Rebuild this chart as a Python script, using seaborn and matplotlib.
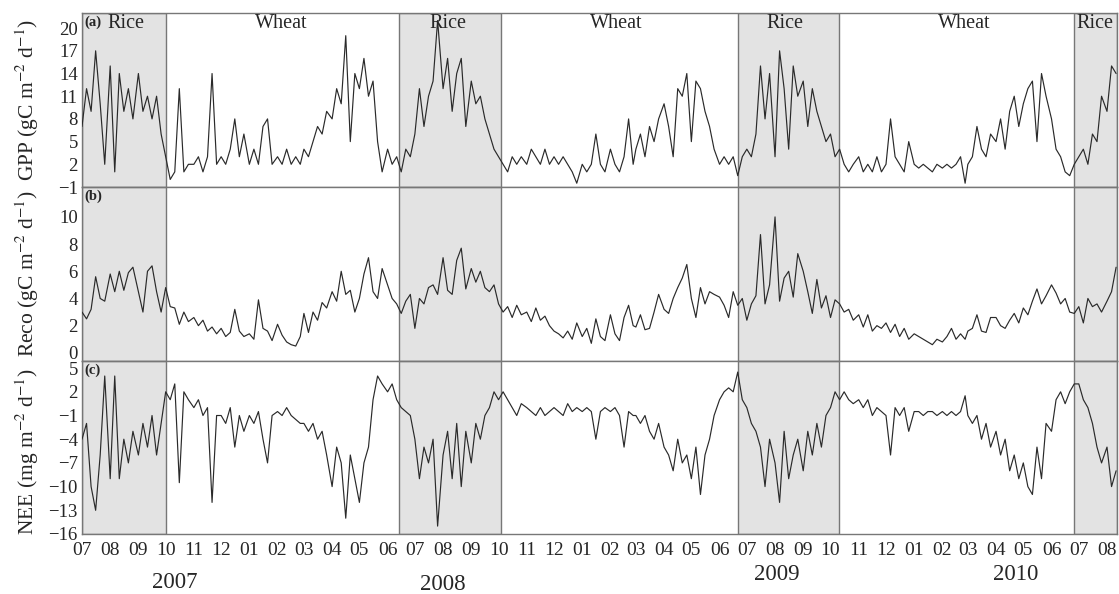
import matplotlib
matplotlib.use("Agg")
import matplotlib.pyplot as plt
import numpy as np
import pandas as pd
import seaborn as sns

sns.set_theme(style="white")
plt.rcParams['font.family'] = ['Liberation Serif', 'DejaVu Serif']
plt.rcParams['mathtext.fontset'] = 'stix'
plt.rcParams['axes.unicode_minus'] = True

# ---- data: values sampled on days 1,6,11,16,21,26 of each month ----
sample_days = [1, 6, 11, 16, 21, 26]

# GPP (gC m-2 d-1), Jul 2007 - Aug 2010
gpp_2007 = [7, 12, 9, 17, 10, 2,   15, 1, 14, 9, 12, 8,   14, 9, 11, 8, 11, 6,
            3, 0, 1, 12, 1, 2,     2, 3, 1, 3, 14, 2,     3, 2, 4, 8, 3, 6]
gpp_2008 = [2, 4, 2, 7, 8, 2,      3, 2, 4, 2, 3, 2,      4, 3, 5, 7, 6, 9,
            8, 12, 10, 19, 5, 14,  12, 16, 11, 13, 5, 1,  4, 2, 3, 1, 4, 3,
            6, 12, 7, 11, 13, 21,  12, 16, 9, 14, 16, 7,  13, 10, 11, 8, 6, 4,
            3, 2, 1, 3, 2, 3,      2, 4, 3, 2, 4, 2,      3, 2, 3, 2, 1, -0.5]
gpp_2009 = [2, 1, 2, 6, 2, 1,      4, 2, 1, 3, 8, 2,      4, 6, 3, 7, 5, 8,
            10, 7, 3, 12, 11, 14,  5, 13, 12, 9, 7, 4,    2, 3, 2, 3, 0.5, 3,
            4, 3, 6, 15, 8, 14,    3, 17, 12, 4, 15, 11,  13, 7, 12, 9, 7, 5,
            6, 3, 4, 2, 1, 2,      3, 1, 2, 1, 3, 1,      2, 8, 3, 2, 1, 5]
gpp_2010 = [2, 1.5, 2, 1.5, 1, 2,  1.5, 2, 1.5, 2, 3, -0.5,  2, 3, 7, 4, 3, 6,
            5, 8, 4, 9, 11, 7,     10, 12, 13, 5, 14, 11,    8, 4, 3, 1, 0.5, 2,
            3, 4, 2, 6, 5, 11,     9, 15, 14]

# Reco (gC m-2 d-1)
reco_2007 = [3.0, 2.5, 3.2, 5.6, 4.0, 3.8,  5.8, 4.5, 6.0, 4.6, 5.9, 6.3,
             4.5, 3.0, 6.0, 6.4, 4.5, 3.0,  4.8, 3.4, 3.3, 2.1, 3.0, 2.3,
             2.6, 2.0, 2.4, 1.6, 1.9, 1.4,  1.8, 1.2, 1.5, 3.2, 1.6, 1.2]
reco_2008 = [1.4, 1.0, 3.9, 1.8, 1.6, 0.9,  2.1, 1.3, 0.8, 0.6, 0.5, 1.2,
             2.9, 1.5, 3.0, 2.4, 3.7, 3.3,  4.5, 3.8, 6.0, 4.3, 4.6, 3.0,
             4.0, 5.8, 7.0, 4.5, 4.0, 6.2,  5.0, 4.0, 3.6, 2.9, 3.8, 4.3,
             1.8, 4.0, 3.6, 4.8, 5.0, 4.3,  7.0, 4.6, 4.3, 6.8, 7.7, 4.7,
             6.2, 5.2, 6.0, 4.8, 4.5, 5.0,  3.6, 3.0, 3.4, 2.6, 3.5, 2.8,
             3.0, 2.3, 3.3, 2.4, 2.7, 2.0,  1.6, 1.4, 1.1, 1.6, 1.0, 2.2]
reco_2009 = [1.2, 1.8, 0.7, 2.5, 1.2, 0.9,  2.8, 1.4, 0.9, 2.6, 3.5, 2.0,
             1.9, 2.8, 1.7, 1.8, 3.0, 4.3,  3.2, 2.9, 4.0, 4.8, 5.5, 6.5,
             4.0, 2.6, 4.8, 3.6, 4.5, 4.3,  4.1, 3.5, 2.6, 4.5, 3.5, 4.0,
             2.4, 3.6, 4.2, 8.7, 3.6, 5.0,  10.0, 3.8, 5.5, 6.0, 4.1, 7.3,
             6.0, 4.5, 2.9, 5.4, 3.3, 4.2,  2.6, 3.9, 3.6, 3.0, 3.2, 2.4,
             2.8, 1.9, 2.8, 1.6, 2.0, 1.8,  2.2, 1.5, 2.1, 1.2, 1.8, 1.0]
reco_2010 = [1.4, 1.2, 1.0, 0.8, 0.6, 1.0,  0.8, 1.2, 1.8, 1.0, 1.4, 1.0,
             1.6, 1.8, 2.8, 1.6, 1.5, 2.6,  2.6, 2.0, 1.8, 2.4, 2.9, 2.2,
             3.3, 2.8, 3.8, 4.7, 3.6, 4.2,  5.0, 4.4, 3.6, 4.0, 3.0, 2.9,
             3.4, 2.2, 4.0, 3.4, 3.6, 3.0,  3.8, 4.5, 6.3]

# NEE (mg m-2 d-1)
nee_2007 = [-4, -2, -10, -13, -6, 4,   -9, 4, -9, -4, -7, -3,   -6, -2, -5, -1, -6, -2,
            2, 1, 3, -9.5, 2, 1,       0, 1, -1, 0, -12, -1,    -1, -2, 0, -5, -1, -3]
nee_2008 = [-1, -2, -0.5, -4, -7, -1,  -0.5, -1, 0, -1, -1.5, -2,  -2, -3, -2, -4, -3, -6,
            -10, -5, -7, -14, -6, -9,  -12, -7, -5, 1, 4, 3,        2, 3, 1, 0, -0.5, -1,
            -4, -9, -5, -7, -4, -15,   -6, -3, -9, -2, -10, -3,     -7, -2, -4, -1, 0, 2,
            1, 2, 1, 0, -1, 0.5,       0, -0.5, -1, 0, -1, -0.5,    0, -0.5, -1, 0.5, -0.5, 0]
nee_2009 = [-0.5, 0, -0.5, -4, -0.5, 0,  -0.5, 0, -1, -5, -0.5, -1,  -1, -2, -1, -3, -4, -2,
            -5, -6, -8, -4, -7, -6,      -9, -5, -11, -6, -4, -1,    1, 2, 2.5, 2, 4.5, 1,
            0, -2, -3, -5, -10, -4,      -7, -12, -3, -9, -6, -4,    -8, -3, -6, -2, -5, -1,
            0, 2, 1, 2, 1, 0.5,          1, 0, 1, -1, 0, -0.5,       -1, -6, 0, -1, 0, -3]
nee_2010 = [-0.5, -0.5, -1, -0.5, -0.5, -1,  -0.5, -1, -0.5, -1, -0.5, 1.5,
            -1, -2, -1, -4, -2, -5,          -3, -6, -4, -8, -6, -9,
            -7, -10, -11, -5, -9, -2,        -3, 1, 2, 0.5, 2, 3,
            3, 1, 0, -2, -5, -7,             -5, -10, -8]

month_labels = ['07', '08', '09', '10', '11', '12',
                '01', '02', '03', '04', '05', '06', '07', '08', '09', '10', '11', '12',
                '01', '02', '03', '04', '05', '06', '07', '08', '09', '10', '11', '12',
                '01', '02', '03', '04', '05', '06', '07', '08']
years = ['2007', '2008', '2009', '2010']
crops = ['Rice', 'Wheat', 'Rice', 'Wheat', 'Rice', 'Wheat', 'Rice']
rice_periods = [('2007-07-01', '2007-10-01'), ('2008-06-14', '2008-10-04'),
                ('2009-06-21', '2009-10-10'), ('2010-06-26', '2010-08-12')]


def sample_dates(n, y=2007, m=7):
    out = []
    while len(out) < n:
        for d in sample_days:
            if len(out) < n:
                out.append(pd.Timestamp(y, m, d))
        m += 1
        if m > 12:
            m, y = 1, y + 1
    return out


gpp = gpp_2007 + gpp_2008 + gpp_2009 + gpp_2010
reco = reco_2007 + reco_2008 + reco_2009 + reco_2010
nee = nee_2007 + nee_2008 + nee_2009 + nee_2010
dates = sample_dates(len(gpp))
df = pd.DataFrame({'date': dates, 'GPP': gpp, 'Reco': reco, 'NEE': nee})

W, H = 1119, 594
fig = plt.figure(figsize=(W / 100, H / 100), dpi=100)


def box(x0, y0, x1, y1):
    return [x0 / W, 1 - y1 / H, (x1 - x0) / W, (y1 - y0) / H]


axes = [fig.add_axes(box(82, 13, 1117, 187)),
        fig.add_axes(box(82, 187, 1117, 361)),
        fig.add_axes(box(82, 361, 1117, 534))]

xmin, xmax = pd.Timestamp('2007-07-01'), pd.Timestamp('2010-08-12')
month_ticks = pd.date_range('2007-07-01', '2010-08-01', freq='MS')
line_c = '#2a2a2a'
spine_c = '#777777'

specs = [('GPP', (-1, 22), [-1, 2, 5, 8, 11, 14, 17, 20], '(a)'),
         ('Reco', (-0.6, 12.2), [0, 2, 4, 6, 8, 10], '(b)'),
         ('NEE', (-16, 5.9), [5, 2, -1, -4, -7, -10, -13, -16], '(c)')]

for ax, (col, ylim, yt, tag) in zip(axes, specs):
    for s, e in rice_periods:
        ax.axvspan(pd.Timestamp(s), pd.Timestamp(e), facecolor='#e3e3e3',
                   edgecolor=spine_c, linewidth=1.0, zorder=0)
    sns.lineplot(data=df, x='date', y=col, ax=ax, color=line_c, linewidth=0.85,
                 zorder=3)
    ax.set_xlim(xmin, xmax)
    ax.set_ylim(*ylim)
    ax.set_yticks(yt)
    ax.set_yticklabels([str(v).replace('-', '\u2212') for v in yt], fontsize=13.5)
    ax.set_xticks(month_ticks)
    ax.set_xlabel('')
    ax.set_ylabel('')
    ax.tick_params(axis='both', length=0, pad=3)
    for sp in ax.spines.values():
        sp.set_color(spine_c)
        sp.set_linewidth(1.0)
    ax.text(0.002, 0.985, tag, transform=ax.transAxes, ha='left', va='top',
            fontsize=10.5, fontweight='bold')
    if ax is not axes[-1]:
        ax.set_xticklabels([])
    else:
        ax.set_xticklabels(month_labels, fontsize=14)
        ax.tick_params(axis='x', pad=6)

# crop labels in panel (a)
crop_x = [126, 281, 448, 616, 785, 964, 1095]
for cx, c in zip(crop_x, crops):
    fig.text(cx / W, 1 - 24 / H, c, ha='center', va='center', fontsize=14.5)

# y labels
ylabels = [(r'GPP (gC m$^{-2}$ d$^{-1}$)', 100),
           (r'Reco (gC m$^{-2}$ d$^{-1}$)', 274),
           (r'NEE (mg m$^{-2}$ d$^{-1}$)', 452)]
for txt, yc in ylabels:
    fig.text(27 / W, 1 - yc / H, txt, rotation=90, ha='center', va='center',
             fontsize=15.5)

# year labels
year_pos = [(175, 582), (443, 584), (777, 574), (1016, 574)]
for (px, py), yr in zip(year_pos, years):
    fig.text(px / W, 1 - py / H, yr, ha='center', va='center', fontsize=16.5)

fig.savefig('out.png', dpi=100)
